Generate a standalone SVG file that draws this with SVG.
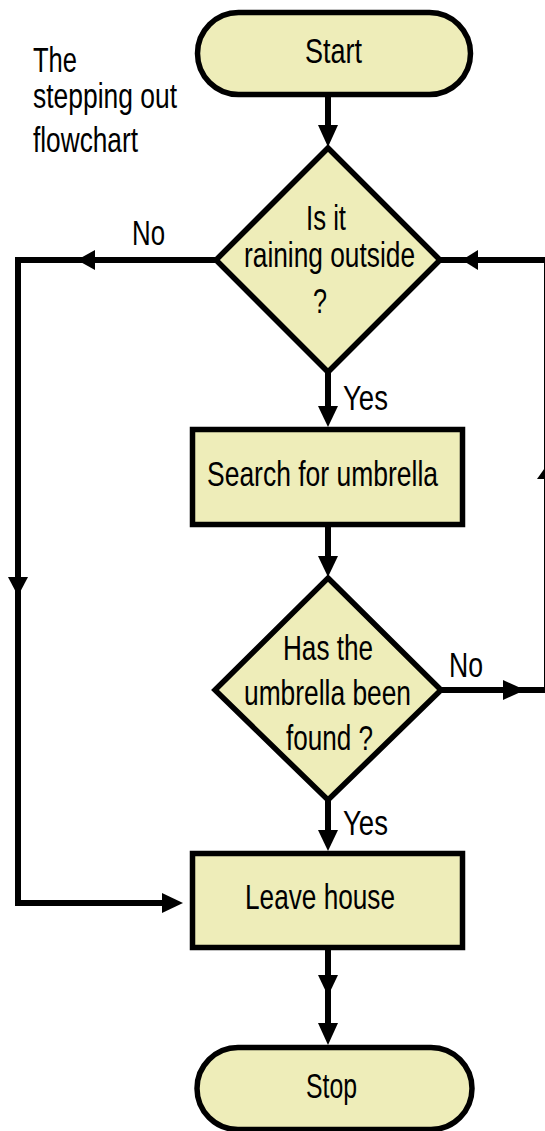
<svg xmlns="http://www.w3.org/2000/svg" width="545" height="1131" viewBox="0 0 545 1131">
<style>
.shape{fill:#EEEDB9;stroke:#000;stroke-width:5.5;stroke-linejoin:miter}
.line{fill:none;stroke:#000;stroke-width:6;stroke-linejoin:miter}
.head{fill:#000}
text{font-family:"Liberation Sans",Arial,sans-serif;font-size:35px;fill:#000}
</style>
<rect width="545" height="1131" fill="#fff"/>
<g id="title">
<text x="33" y="72" textLength="44" lengthAdjust="spacingAndGlyphs">The</text>
<text x="33" y="108" textLength="144" lengthAdjust="spacingAndGlyphs">stepping out</text>
<text x="33" y="152" textLength="105" lengthAdjust="spacingAndGlyphs">flowchart</text>
</g>
<g id="connectors">
<path class="line" d="M328 96 V130"/>
<path class="head" d="M318 125 H338 L328 147 Z"/>
<path class="line" d="M328 372 V410"/>
<path class="head" d="M318 406 H338 L328 427 Z"/>
<path class="line" d="M328 527 V560"/>
<path class="head" d="M318 556 H338 L328 577 Z"/>
<path class="line" d="M328 800 V834"/>
<path class="head" d="M318 830 H338 L328 851 Z"/>
<path class="line" d="M328 950 V1030"/>
<path class="head" d="M318 975 H338 L328 996 Z"/>
<path class="head" d="M318 1023 H338 L328 1045 Z"/>
<path class="line" d="M215 260 H18 V903 H168"/>
<path class="head" d="M77 260 L95 250 V270 Z"/>
<path class="head" d="M8 577 H28 L18 596 Z"/>
<path class="head" d="M162 893 L183 903 L162 913 Z"/>
<path class="line" d="M442 690 H547 V260 H440"/>
<path class="head" d="M503 680 L525 690 L503 700 Z"/>
<path class="head" d="M537 479 L547 465 L557 479 Z"/>
<path class="head" d="M462 260 L478 250 V270 Z"/>
<text x="132" y="245" textLength="33" lengthAdjust="spacingAndGlyphs">No</text>
<text x="343" y="410" textLength="45" lengthAdjust="spacingAndGlyphs">Yes</text>
<text x="449" y="677" textLength="34" lengthAdjust="spacingAndGlyphs">No</text>
<text x="343" y="835" textLength="45" lengthAdjust="spacingAndGlyphs">Yes</text>
</g>
<g id="start">
<rect class="shape" x="197.5" y="12.5" width="273" height="82" rx="41"/>
<text x="305" y="63" textLength="57" lengthAdjust="spacingAndGlyphs">Start</text>
</g>
<g id="raining">
<path class="shape" d="M328 148 L440 260 L328 372 L216 260 Z"/>
<text x="306" y="230" textLength="40" lengthAdjust="spacingAndGlyphs">Is it</text>
<text x="244" y="267" textLength="171" lengthAdjust="spacingAndGlyphs">raining outside</text>
<text x="313" y="313" textLength="14" lengthAdjust="spacingAndGlyphs">?</text>
</g>
<g id="search">
<rect class="shape" x="192.5" y="429.5" width="270" height="95"/>
<text x="207" y="486" textLength="231" lengthAdjust="spacingAndGlyphs">Search for umbrella</text>
</g>
<g id="found">
<path class="shape" d="M328 578 L441 690 L328 800 L215 690 Z"/>
<text x="283" y="660" textLength="90" lengthAdjust="spacingAndGlyphs">Has the</text>
<text x="244" y="705" textLength="167" lengthAdjust="spacingAndGlyphs">umbrella been</text>
<text x="286" y="750" textLength="87" lengthAdjust="spacingAndGlyphs">found ?</text>
</g>
<g id="leave">
<rect class="shape" x="192.5" y="853.5" width="270" height="94"/>
<text x="245" y="909" textLength="150" lengthAdjust="spacingAndGlyphs">Leave house</text>
</g>
<g id="stop">
<rect class="shape" x="197" y="1047.5" width="275" height="82" rx="41"/>
<text x="306" y="1098" textLength="51" lengthAdjust="spacingAndGlyphs">Stop</text>
</g>
</svg>
